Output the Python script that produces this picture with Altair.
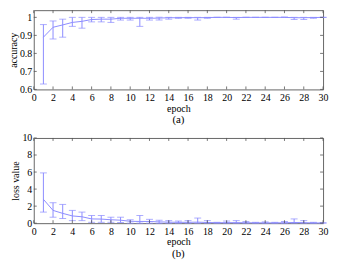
import altair as alt
import pandas as pd

epochs = list(range(1, 31))
acc_mean = [0.89, 0.945, 0.958, 0.972, 0.978, 0.988, 0.99, 0.99, 0.995, 0.995,
            0.995, 0.995, 0.996, 0.998, 0.998, 0.999, 0.998, 0.999, 1.0, 1.0,
            0.999, 1.0, 1.0, 1.0, 1.0, 1.0, 0.998, 0.998, 0.999, 1.0]
acc_lo = [0.63, 0.88, 0.89, 0.95, 0.94, 0.975, 0.975, 0.972, 0.985, 0.985,
          0.95, 0.985, 0.985, 0.99, 0.995, 0.995, 0.985, 0.995, 1.0, 1.0,
          0.99, 1.0, 1.0, 1.0, 1.0, 1.0, 0.988, 0.988, 0.995, 1.0]
acc_hi = [0.96, 0.98, 0.99, 1.0, 1.0, 1.0, 1.0, 1.0, 1.0, 1.0,
          1.0, 1.0, 1.0, 1.0, 1.0, 1.0, 1.0, 1.0, 1.0, 1.0,
          1.0, 1.0, 1.0, 1.0, 1.0, 1.0, 1.0, 1.0, 1.0, 1.0]
loss_mean = [2.8, 1.5, 1.15, 0.85, 0.75, 0.5, 0.48, 0.4, 0.35, 0.22,
             0.2, 0.2, 0.15, 0.12, 0.1, 0.1, 0.12, 0.08, 0.05, 0.06,
             0.06, 0.05, 0.04, 0.04, 0.03, 0.05, 0.08, 0.06, 0.03, 0.02]
loss_lo = [1.3, 0.7, 0.55, 0.3, 0.3, 0.1, 0.1, 0.1, 0.08, 0.0,
           0.0, 0.0, 0.0, 0.0, 0.0, 0.0, 0.0, 0.0, 0.0, 0.0,
           0.0, 0.0, 0.0, 0.0, 0.0, 0.0, 0.0, 0.0, 0.0, 0.0]
loss_hi = [5.9, 2.4, 2.2, 1.5, 1.3, 0.9, 0.9, 0.7, 0.7, 0.4,
           0.9, 0.45, 0.35, 0.3, 0.25, 0.3, 0.6, 0.3, 0.1, 0.25,
           0.3, 0.2, 0.1, 0.15, 0.1, 0.2, 0.5, 0.3, 0.1, 0.05]

x_ticks = list(range(0, 31, 2))
acc_ticks = [0.6, 0.7, 0.8, 0.9, 1.0]
loss_ticks = [0, 2, 4, 6, 8, 10]

FONT = "Liberation Serif"
LINE = "#8c8cff"
W = 292


def panel(mean, lo, hi, yticks, ydom, ytitle, label, H):
    df = pd.DataFrame({"epoch": epochs, "mean": mean, "lo": lo, "hi": hi})
    xt = pd.DataFrame({"t": x_ticks})
    yt = pd.DataFrame({"t": yticks})
    xs = alt.Scale(domain=[0, 30], nice=False)
    ys = alt.Scale(domain=ydom, nice=False, zero=False)
    xaxis = alt.Axis(values=x_ticks, title="epoch", tickSize=0, domain=False,
                     grid=False, labelPadding=3, titlePadding=1,
                     labelOverlap=False, labelFlush=False, labelBound=False)
    yaxis = alt.Axis(values=yticks, title=ytitle, tickSize=0, domain=False,
                     grid=False, labelPadding=2, titlePadding=1, format="~r",
                     labelOverlap=False, labelFlush=False, labelBound=False)
    X = lambda f: alt.X(f, scale=xs, axis=xaxis)
    Y = lambda f: alt.Y(f, scale=ys, axis=yaxis)
    base = alt.Chart(df)
    bars = base.mark_rule(color=LINE, strokeWidth=1).encode(
        x=X("epoch:Q"), y=Y("lo:Q"), y2="hi:Q")
    cap_lo = base.mark_tick(color=LINE, orient="horizontal", size=7, thickness=1).encode(
        x=X("epoch:Q"), y=Y("lo:Q"))
    cap_hi = base.mark_tick(color=LINE, orient="horizontal", size=7, thickness=1).encode(
        x=X("epoch:Q"), y=Y("hi:Q"))
    line = base.mark_line(color=LINE, strokeWidth=1).encode(
        x=X("epoch:Q"), y=Y("mean:Q"))
    tb = alt.Chart(xt).mark_rule(color="#555", strokeWidth=0.8).encode(
        x=X("t:Q"), y=alt.value(H), y2=alt.value(H - 3))
    tt = alt.Chart(xt).mark_rule(color="#555", strokeWidth=0.8).encode(
        x=X("t:Q"), y=alt.value(0), y2=alt.value(3))
    tl = alt.Chart(yt).mark_rule(color="#555", strokeWidth=0.8).encode(
        y=Y("t:Q"), x=alt.value(0), x2=alt.value(3))
    tr = alt.Chart(yt).mark_rule(color="#555", strokeWidth=0.8).encode(
        y=Y("t:Q"), x=alt.value(W - 3), x2=alt.value(W))
    return alt.layer(bars, cap_lo, cap_hi, line, tb, tt, tl, tr).properties(
        width=W, height=H,
        title=alt.TitleParams(label, orient="bottom", font=FONT, fontSize=11,
                              fontWeight="normal", color="#000", offset=1))


top = panel(acc_mean, acc_lo, acc_hi, acc_ticks, [0.6, 1.04], "accuracy", "(a)", 80)
bot = panel(loss_mean, loss_lo, loss_hi, loss_ticks, [0, 10], "loss value", "(b)", 86)

chart = alt.vconcat(top, bot, spacing=6).properties(padding=0).configure_view(
    stroke="#666", strokeWidth=1
).configure_axis(
    labelFont=FONT, titleFont=FONT, labelFontSize=10, titleFontSize=10,
    labelColor="#000", titleColor="#000", titleFontWeight="normal"
)

chart.save("out.html", embed_options={"renderer": "svg", "actions": False})
